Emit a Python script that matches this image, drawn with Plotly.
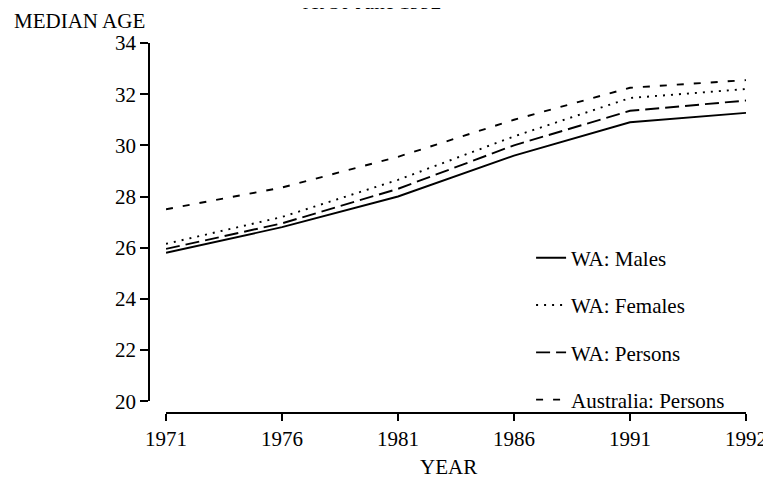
import plotly.graph_objects as go

years = ["1971", "1976", "1981", "1986", "1991", "1992"]
wa_males = [25.8, 26.8, 28.0, 29.6, 30.9, 31.27]
wa_females = [26.15, 27.2, 28.65, 30.35, 31.85, 32.2]
wa_persons = [25.95, 26.95, 28.3, 30.0, 31.35, 31.75]
aus_persons = [27.5, 28.35, 29.55, 31.0, 32.25, 32.55]
y_ticks = [20, 22, 24, 26, 28, 30, 32, 34]

FONT = "Liberation Serif"
FS = 21

series = [
    ("WA: Males", wa_males, "solid"),
    ("WA: Females", wa_females, "2px,6px"),
    ("WA: Persons", wa_persons, "14px,6px"),
    ("Australia: Persons", aus_persons, "7px,10px"),
]

fig = go.Figure()
for i, (name, vals, dash) in enumerate(series):
    fig.add_trace(go.Scatter(
        x=years, y=vals, mode="lines", name=name,
        legendgroup=f"g{i}",
        line=dict(color="black", width=1.9, dash=dash),
    ))

fig.update_layout(
    width=763, height=476,
    margin=dict(l=141, r=25, t=35, b=71, autoexpand=False),
    paper_bgcolor="white", plot_bgcolor="white",
    font=dict(family=FONT, size=FS, color="black"),
    showlegend=True,
    legend=dict(
        x=0.64, y=0.474, xanchor="left", yanchor="top",
        bgcolor="rgba(0,0,0,0)", borderwidth=0,
        tracegroupgap=17, font=dict(family=FONT, size=FS, color="black"),
    ),
    xaxis=dict(
        type="category", range=[0, 5], domain=[0.0285, 1],
        anchor="free", position=0,
        showline=True, linecolor="black", linewidth=1.5,
        ticks="outside", ticklen=7, tickwidth=1.5, tickcolor="black",
        showgrid=False, zeroline=False,
        tickfont=dict(family=FONT, size=FS, color="black"),
    ),
    yaxis=dict(
        range=[20, 34], domain=[0.032, 1],
        anchor="free", position=0,
        tickvals=y_ticks,
        showline=True, linecolor="black", linewidth=1.5,
        ticks="outside", ticklen=8, tickwidth=1.5, tickcolor="black",
        showgrid=False, zeroline=False,
        tickfont=dict(family=FONT, size=FS, color="black"),
    ),
    annotations=[
        dict(text="MEDIAN AGE", xref="paper", yref="paper", x=-0.229, y=1.059,
             xanchor="left", yanchor="middle", showarrow=False,
             font=dict(family=FONT, size=FS, color="black")),
        dict(text="YEAR", xref="paper", yref="paper", x=0.501, y=-0.146,
             xanchor="center", yanchor="middle", showarrow=False,
             font=dict(family=FONT, size=FS, color="black")),
        dict(text="At 30 June 1992", xref="paper", yref="paper", x=0.374, y=1.074,
             xanchor="center", yanchor="bottom", showarrow=False,
             font=dict(family=FONT, size=FS, color="black")),
    ],
)

fig.write_html("out.html")
